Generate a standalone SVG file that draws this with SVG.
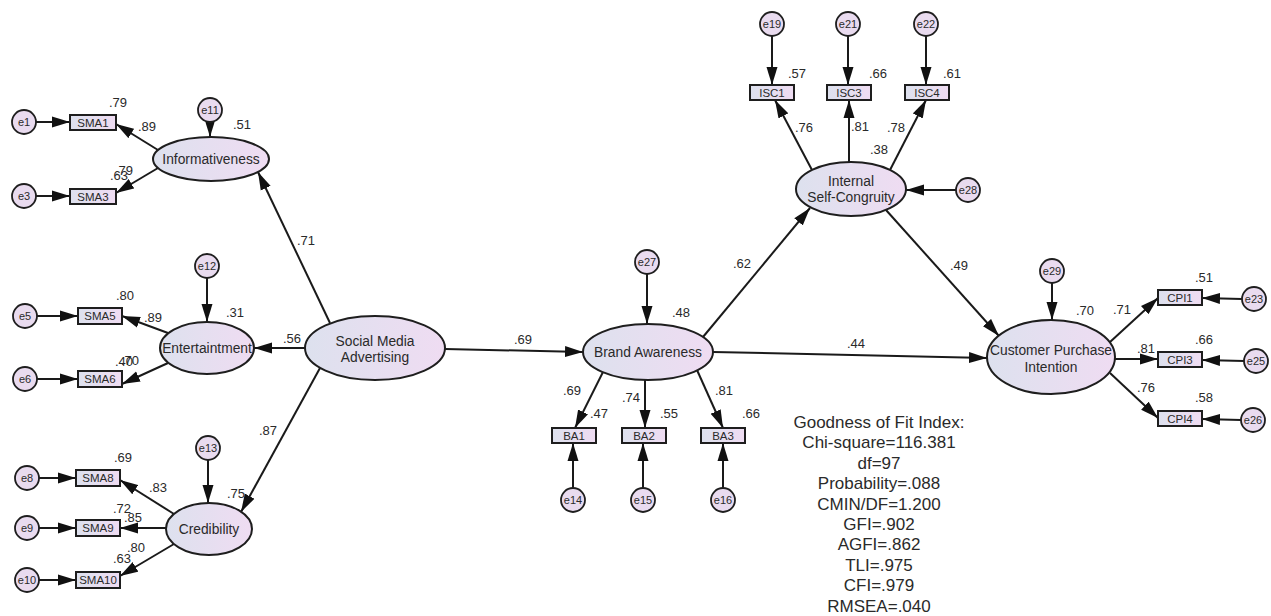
<svg xmlns="http://www.w3.org/2000/svg" width="1271" height="616" viewBox="0 0 1271 616">
<defs>
<linearGradient id="g" x1="0" y1="0" x2="1" y2="0">
<stop offset="0" stop-color="#dde1ee"/>
<stop offset="1" stop-color="#efdcf2"/>
</linearGradient>
<marker id="a" markerUnits="userSpaceOnUse" markerWidth="18" markerHeight="12" refX="18" refY="6" orient="auto">
<path d="M0,0.5 L18,6 L0,11.5 z" fill="#111"/>
</marker>
<style>
text { font-family: "Liberation Sans", Arial, sans-serif; fill: #2a2a2a; text-anchor: middle; }
.lat { fill: url(#g); stroke: #1e1e1e; stroke-width: 2; }
.obs { fill: url(#g); stroke: #1e1e1e; stroke-width: 2; }
.err { fill: #e9dbef; stroke: #1e1e1e; stroke-width: 1.8; }
.n { font-size: 13.8px; }
.o { font-size: 11.5px; }
.e { font-size: 11px; }
.v { font-size: 13px; }
.gf { font-size: 17px; }
#conn line { stroke: #1a1a1a; stroke-width: 2; marker-end: url(#a); }
</style>
</defs>
<rect width="1271" height="616" fill="#ffffff"/>

<g id="conn">
<!-- structural -->
<line x1="330" y1="323" x2="258" y2="172"/>
<line x1="305" y1="348" x2="254" y2="348"/>
<line x1="320" y1="368" x2="241" y2="512"/>
<line x1="445" y1="349" x2="583" y2="352"/>
<line x1="703" y1="337" x2="810" y2="208"/>
<line x1="713" y1="352" x2="987" y2="358"/>
<line x1="886" y1="210" x2="999" y2="336"/>
<!-- Informativeness -->
<line x1="210" y1="122" x2="210" y2="137"/>
<line x1="158" y1="150" x2="116" y2="124"/>
<line x1="158" y1="168" x2="116" y2="193"/>
<line x1="36" y1="122" x2="70" y2="122"/>
<line x1="36" y1="196" x2="70" y2="196"/>
<!-- Entertainment -->
<line x1="207" y1="278" x2="207" y2="322"/>
<line x1="168" y1="333" x2="122" y2="316"/>
<line x1="168" y1="363" x2="122" y2="384"/>
<line x1="37" y1="316" x2="78" y2="316"/>
<line x1="37" y1="379" x2="78" y2="379"/>
<!-- Credibility -->
<line x1="208" y1="460" x2="208" y2="503"/>
<line x1="174" y1="514" x2="120" y2="480"/>
<line x1="166" y1="528" x2="120" y2="528"/>
<line x1="174" y1="544" x2="120" y2="576"/>
<line x1="39" y1="478" x2="76" y2="478"/>
<line x1="39" y1="528" x2="76" y2="528"/>
<line x1="39" y1="580" x2="76" y2="580"/>
<!-- Brand Awareness -->
<line x1="647" y1="274" x2="647" y2="324"/>
<line x1="603" y1="372" x2="575" y2="428"/>
<line x1="645" y1="380" x2="645" y2="428"/>
<line x1="697" y1="370" x2="723" y2="428"/>
<line x1="573" y1="488" x2="573" y2="443"/>
<line x1="643" y1="488" x2="643" y2="443"/>
<line x1="723" y1="488" x2="723" y2="443"/>
<!-- ISC -->
<line x1="772" y1="36" x2="772" y2="85"/>
<line x1="848" y1="36" x2="848" y2="85"/>
<line x1="926" y1="36" x2="926" y2="85"/>
<line x1="812" y1="170" x2="775" y2="100"/>
<line x1="849" y1="162" x2="849" y2="100"/>
<line x1="890" y1="170" x2="926" y2="100"/>
<line x1="956" y1="190" x2="906" y2="190"/>
<!-- CPI -->
<line x1="1052" y1="283" x2="1052" y2="320"/>
<line x1="1110" y1="342" x2="1158" y2="298"/>
<line x1="1115" y1="359" x2="1158" y2="359"/>
<line x1="1110" y1="373" x2="1158" y2="418"/>
<line x1="1242" y1="299" x2="1202" y2="298"/>
<line x1="1244" y1="361" x2="1202" y2="360"/>
<line x1="1241" y1="420" x2="1202" y2="419"/>
</g>

<g id="informativeness"><ellipse class="lat" cx="211" cy="159" rx="58" ry="22"/><text class="n" x="211" y="164">Informativeness</text></g>
<g id="e11"><circle class="err" cx="210" cy="110" r="12"/><text class="e" x="210" y="114">e11</text></g>
<g id="sma1"><rect class="obs" x="70" y="115" width="46" height="15"/><text class="o" x="93" y="127">SMA1</text></g>
<g id="sma3"><rect class="obs" x="70" y="189" width="46" height="15"/><text class="o" x="93" y="201">SMA3</text></g>
<g id="e1"><circle class="err" cx="24" cy="122" r="12"/><text class="e" x="24" y="126">e1</text></g>
<g id="e3"><circle class="err" cx="24" cy="196" r="12"/><text class="e" x="24" y="200">e3</text></g>

<g id="entertainment"><ellipse class="lat" cx="207" cy="348" rx="47" ry="26"/><text class="n" x="207" y="353">Entertaintment</text></g>
<g id="e12"><circle class="err" cx="207" cy="266" r="12"/><text class="e" x="207" y="270">e12</text></g>
<g id="sma5"><rect class="obs" x="78" y="308" width="44" height="16"/><text class="o" x="100" y="320">SMA5</text></g>
<g id="sma6"><rect class="obs" x="78" y="371" width="44" height="16"/><text class="o" x="100" y="383">SMA6</text></g>
<g id="e5"><circle class="err" cx="25" cy="316" r="12"/><text class="e" x="25" y="320">e5</text></g>
<g id="e6"><circle class="err" cx="25" cy="379" r="12"/><text class="e" x="25" y="383">e6</text></g>

<g id="sma"><ellipse class="lat" cx="375" cy="348" rx="70" ry="32"/><text class="n" x="375" y="346">Social Media</text><text class="n" x="375" y="362">Advertising</text></g>

<g id="credibility"><ellipse class="lat" cx="209" cy="529" rx="43" ry="26"/><text class="n" x="209" y="534">Credibility</text></g>
<g id="e13"><circle class="err" cx="208" cy="448" r="12"/><text class="e" x="208" y="452">e13</text></g>
<g id="sma8"><rect class="obs" x="76" y="470" width="44" height="16"/><text class="o" x="98" y="482">SMA8</text></g>
<g id="sma9"><rect class="obs" x="76" y="520" width="44" height="16"/><text class="o" x="98" y="532">SMA9</text></g>
<g id="sma10"><rect class="obs" x="76" y="572" width="44" height="16"/><text class="o" x="98" y="584">SMA10</text></g>
<g id="e8"><circle class="err" cx="27" cy="478" r="12"/><text class="e" x="27" y="482">e8</text></g>
<g id="e9"><circle class="err" cx="27" cy="528" r="12"/><text class="e" x="27" y="532">e9</text></g>
<g id="e10"><circle class="err" cx="27" cy="580" r="12"/><text class="e" x="27" y="584">e10</text></g>

<g id="ba"><ellipse class="lat" cx="648" cy="352" rx="65" ry="28"/><text class="n" x="648" y="357">Brand Awareness</text></g>
<g id="e27"><circle class="err" cx="647" cy="262" r="12"/><text class="e" x="647" y="266">e27</text></g>
<g id="ba1"><rect class="obs" x="552" y="428" width="44" height="15"/><text class="o" x="574" y="440">BA1</text></g>
<g id="ba2"><rect class="obs" x="622" y="428" width="44" height="15"/><text class="o" x="644" y="440">BA2</text></g>
<g id="ba3"><rect class="obs" x="701" y="428" width="44" height="15"/><text class="o" x="723" y="440">BA3</text></g>
<g id="e14"><circle class="err" cx="573" cy="500" r="12"/><text class="e" x="573" y="504">e14</text></g>
<g id="e15"><circle class="err" cx="643" cy="500" r="12"/><text class="e" x="643" y="504">e15</text></g>
<g id="e16"><circle class="err" cx="723" cy="500" r="12"/><text class="e" x="723" y="504">e16</text></g>

<g id="isc"><ellipse class="lat" cx="851" cy="189" rx="55" ry="27"/><text class="n" x="851" y="186">Internal</text><text class="n" x="851" y="202">Self-Congruity</text></g>
<g id="isc1"><rect class="obs" x="750" y="85" width="44" height="15"/><text class="o" x="772" y="97">ISC1</text></g>
<g id="isc3"><rect class="obs" x="827" y="85" width="44" height="15"/><text class="o" x="849" y="97">ISC3</text></g>
<g id="isc4"><rect class="obs" x="905" y="85" width="44" height="15"/><text class="o" x="927" y="97">ISC4</text></g>
<g id="e19"><circle class="err" cx="772" cy="24" r="12"/><text class="e" x="772" y="28">e19</text></g>
<g id="e21"><circle class="err" cx="848" cy="24" r="12"/><text class="e" x="848" y="28">e21</text></g>
<g id="e22"><circle class="err" cx="926" cy="24" r="12"/><text class="e" x="926" y="28">e22</text></g>
<g id="e28"><circle class="err" cx="968" cy="190" r="12"/><text class="e" x="968" y="194">e28</text></g>

<g id="cpi"><ellipse class="lat" cx="1051" cy="357" rx="64" ry="37"/><text class="n" x="1051" y="355">Customer Purchase</text><text class="n" x="1051" y="372">Intention</text></g>
<g id="e29"><circle class="err" cx="1052" cy="271" r="12"/><text class="e" x="1052" y="275">e29</text></g>
<g id="cpi1"><rect class="obs" x="1158" y="290" width="44" height="15"/><text class="o" x="1180" y="302">CPI1</text></g>
<g id="cpi3"><rect class="obs" x="1158" y="352" width="44" height="15"/><text class="o" x="1180" y="364">CPI3</text></g>
<g id="cpi4"><rect class="obs" x="1158" y="411" width="44" height="15"/><text class="o" x="1180" y="423">CPI4</text></g>
<g id="e23"><circle class="err" cx="1254" cy="299" r="12"/><text class="e" x="1254" y="303">e23</text></g>
<g id="e25"><circle class="err" cx="1256" cy="361" r="12"/><text class="e" x="1256" y="365">e25</text></g>
<g id="e26"><circle class="err" cx="1253" cy="420" r="12"/><text class="e" x="1253" y="424">e26</text></g>

<g id="values">
<text class="v" x="118" y="107">.79</text>
<text class="v" x="147" y="131">.89</text>
<text class="v" x="242" y="129">.51</text>
<text class="v" x="124" y="175">.79</text>
<text class="v" x="119" y="180">.63</text>
<text class="v" x="125" y="300">.80</text>
<text class="v" x="153" y="322">.89</text>
<text class="v" x="235" y="317">.31</text>
<text class="v" x="292" y="343">.56</text>
<text class="v" x="124" y="366">.40</text>
<text class="v" x="130" y="365">.70</text>
<text class="v" x="123" y="462">.69</text>
<text class="v" x="158" y="492">.83</text>
<text class="v" x="236" y="498">.75</text>
<text class="v" x="122" y="513">.72</text>
<text class="v" x="133" y="522">.85</text>
<text class="v" x="136" y="552">.80</text>
<text class="v" x="122" y="563">.63</text>
<text class="v" x="268" y="435">.87</text>
<text class="v" x="306" y="245">.71</text>
<text class="v" x="523" y="344">.69</text>
<text class="v" x="681" y="317">.48</text>
<text class="v" x="742" y="268">.62</text>
<text class="v" x="572" y="395">.69</text>
<text class="v" x="599" y="418">.47</text>
<text class="v" x="631" y="402">.74</text>
<text class="v" x="669" y="418">.55</text>
<text class="v" x="724" y="395">.81</text>
<text class="v" x="751" y="418">.66</text>
<text class="v" x="797" y="78">.57</text>
<text class="v" x="878" y="78">.66</text>
<text class="v" x="952" y="78">.61</text>
<text class="v" x="804" y="132">.76</text>
<text class="v" x="860" y="131">.81</text>
<text class="v" x="896" y="132">.78</text>
<text class="v" x="879" y="154">.38</text>
<text class="v" x="959" y="270">.49</text>
<text class="v" x="856" y="348">.44</text>
<text class="v" x="1085" y="315">.70</text>
<text class="v" x="1122" y="314">.71</text>
<text class="v" x="1204" y="282">.51</text>
<text class="v" x="1146" y="353">.81</text>
<text class="v" x="1204" y="344">.66</text>
<text class="v" x="1146" y="392">.76</text>
<text class="v" x="1204" y="402">.58</text>
</g>

<g id="fit">
<text class="gf" x="879" y="428">Goodness of Fit Index:</text>
<text class="gf" x="879" y="448">Chi-square=116.381</text>
<text class="gf" x="879" y="469">df=97</text>
<text class="gf" x="879" y="489">Probability=.088</text>
<text class="gf" x="879" y="510">CMIN/DF=1.200</text>
<text class="gf" x="879" y="530">GFI=.902</text>
<text class="gf" x="879" y="550">AGFI=.862</text>
<text class="gf" x="879" y="571">TLI=.975</text>
<text class="gf" x="879" y="591">CFI=.979</text>
<text class="gf" x="879" y="612">RMSEA=.040</text>
</g>
</svg>
